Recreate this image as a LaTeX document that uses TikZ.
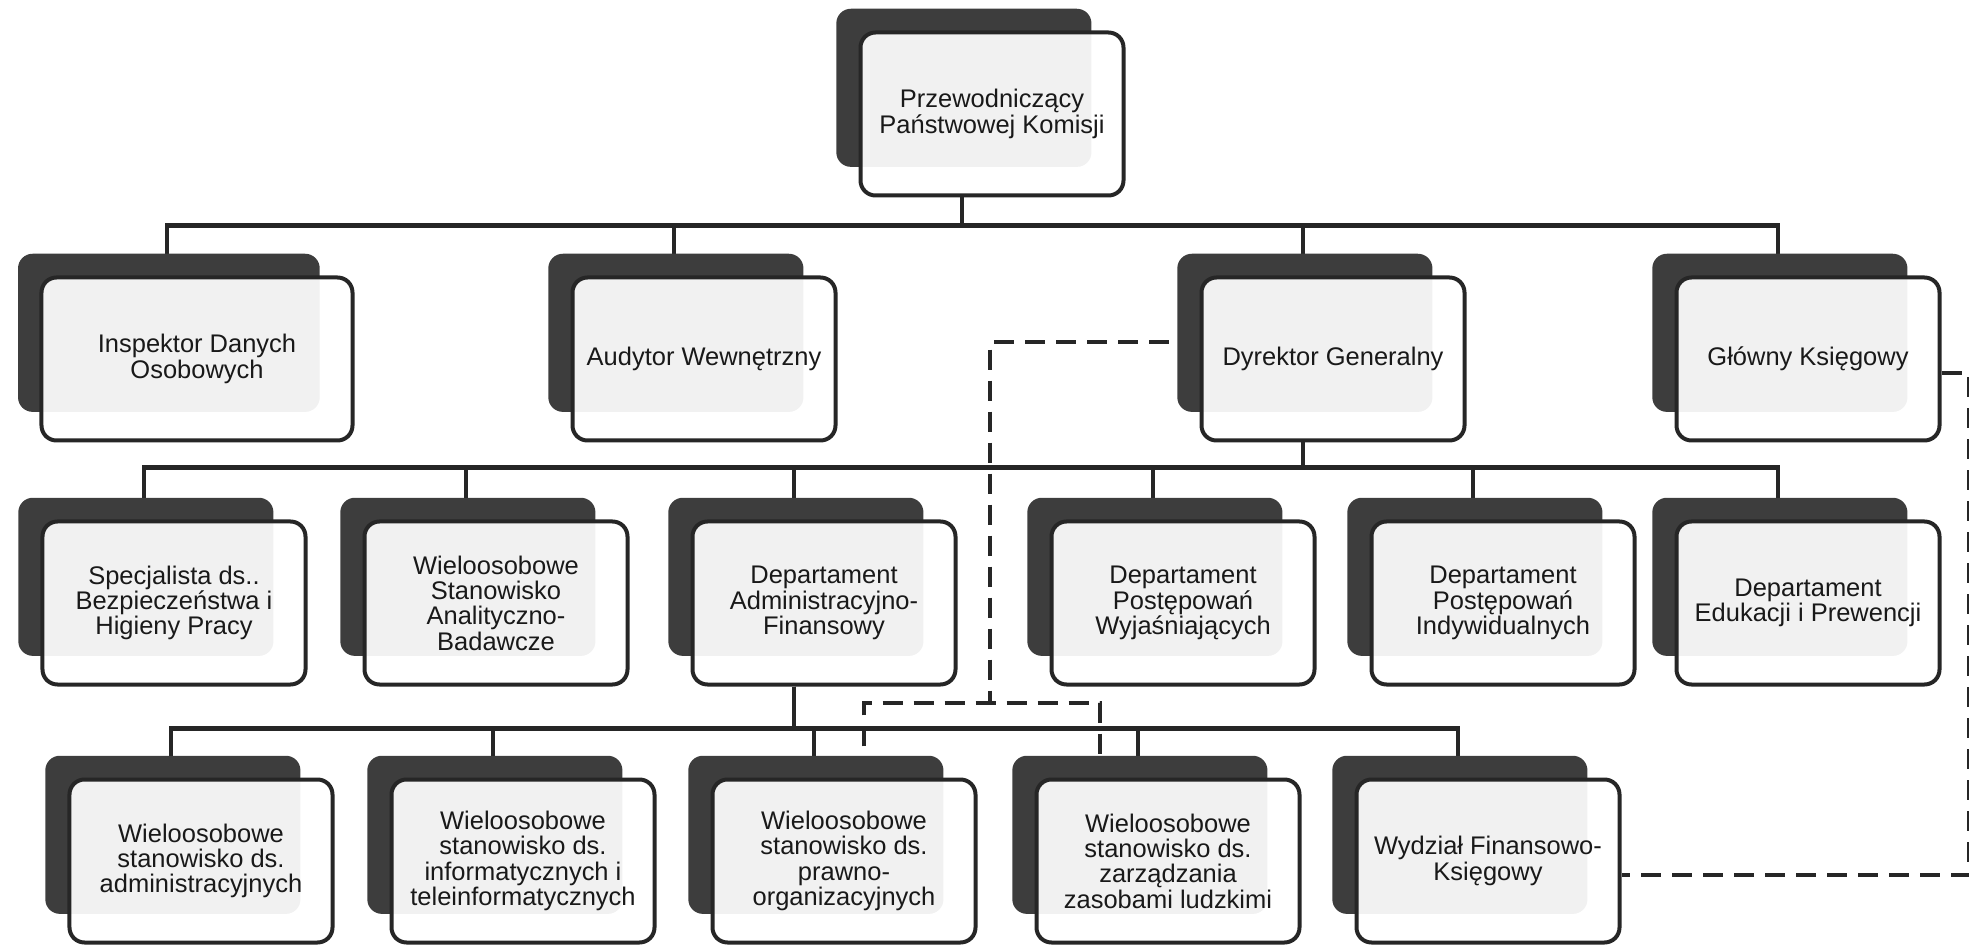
\documentclass[tikz,border=0pt]{standalone}
\usepackage{fontspec}
\setmainfont{Liberation Sans}
\usetikzlibrary{positioning,shapes,backgrounds,shadows}

\begin{document}
\begin{tikzpicture}[x=0.2mm, y=-0.2mm,
    unit/.style={draw=black!85, line width=0.8mm, rounded corners=3mm,
        fill=white, fill opacity=0.93, text opacity=1, text=black!90,
        minimum width=52.6mm, minimum height=32.6mm, inner sep=0pt, align=center,
        font=\fontsize{14.5}{14.4}\selectfont,
        general shadow={fill=black!76, fill opacity=1, shadow xshift=-5.8mm,
            shadow yshift=5.4mm, shadow scale=0.97}},
    link/.style={draw=black!85, line width=0.9mm},
    dotlink/.style={draw=black!85, line width=0.7mm, dash pattern=on 4mm off 2.2mm}]
\useasboundingbox (0,0) rectangle (1969,947);

\node[unit](prz) at (992,114){Przewodniczący\\Państwowej Komisji};

\node[unit, minimum width=62.2mm](ins) at (197,359){Inspektor Danych\\Osobowych};
\node[unit](aud) at (704,359){Audytor Wewnętrzny};
\node[unit](dyr) at (1333,359){Dyrektor Generalny};
\node[unit](glo) at (1808,359){Główny Księgowy};

\node[unit](spe) at (174,603){Specjalista ds..\\Bezpieczeństwa i\\Higieny Pracy};
\node[unit](wsa) at (496,603){Wieloosobowe\\Stanowisko\\Analityczno-\\Badawcze};
\node[unit](daf) at (824,603){Departament\\Administracyjno-\\Finansowy};
\node[unit](dpw) at (1183,603){Departament\\Postępowań\\Wyjaśniających};
\node[unit](dpi) at (1503,603){Departament\\Postępowań\\Indywidualnych};
\node[unit](dep) at (1808,603){Departament\\Edukacji i Prewencji};

\node[unit](wad) at (201,861){Wieloosobowe\\stanowisko ds.\\administracyjnych};
\node[unit](wit) at (523,861){Wieloosobowe\\stanowisko ds.\\informatycznych i\\teleinformatycznych};
\node[unit](wpo) at (844,861){Wieloosobowe\\stanowisko ds.\\prawno-\\organizacyjnych};
\node[unit](wzl) at (1168,861){Wieloosobowe\\stanowisko ds.\\zarządzania\\zasobami ludzkimi};
\node[unit](wfk) at (1488,861){Wydział Finansowo-\\Księgowy};

\coordinate (j) at (990,703);

\begin{scope}[on background layer]
\draw[link] ([xshift=-6mm]prz.south) -- ++(0,28) -| ([xshift=-6mm]ins.north);
\draw[link] ([xshift=-6mm]prz.south) -- ++(0,28) -| ([xshift=-6mm]aud.north);
\draw[link] ([xshift=-6mm]prz.south) -- ++(0,28) -| ([xshift=-6mm]dyr.north);
\draw[link] ([xshift=-6mm]prz.south) -- ++(0,28) -| ([xshift=-6mm]glo.north);

\draw[link] ([xshift=-6mm]dyr.south) -- ++(0,25) -| ([xshift=-6mm]spe.north);
\draw[link] ([xshift=-6mm]dyr.south) -- ++(0,25) -| ([xshift=-6mm]wsa.north);
\draw[link] ([xshift=-6mm]dyr.south) -- ++(0,25) -| ([xshift=-6mm]daf.north);
\draw[link] ([xshift=-6mm]dyr.south) -- ++(0,25) -| ([xshift=-6mm]dpw.north);
\draw[link] ([xshift=-6mm]dyr.south) -- ++(0,25) -| ([xshift=-6mm]dpi.north);
\draw[link] ([xshift=-6mm]dyr.south) -- ++(0,25) -| ([xshift=-6mm]dep.north);

\draw[link] ([xshift=-6mm]daf.south) -- ++(0,42) -| ([xshift=-6mm]wad.north);
\draw[link] ([xshift=-6mm]daf.south) -- ++(0,42) -| ([xshift=-6mm]wit.north);
\draw[link] ([xshift=-6mm]daf.south) -- ++(0,42) -| ([xshift=-6mm]wpo.north);
\draw[link] ([xshift=-6mm]daf.south) -- ++(0,42) -| ([xshift=-6mm]wzl.north);
\draw[link] ([xshift=-6mm]daf.south) -- ++(0,42) -| ([xshift=-6mm]wfk.north);

\draw[dotlink] ([yshift=3.4mm]dyr.west) -| (j);
\draw[dotlink] ([xshift=4mm]wpo.north) |- (j) -| ([xshift=-13.6mm]wzl.north);
\draw[dotlink] ([yshift=-2.8mm]glo.east) -- ++(27,0) |- ([yshift=-2.8mm]wfk.east);
\end{scope}

\end{tikzpicture}
\end{document}
